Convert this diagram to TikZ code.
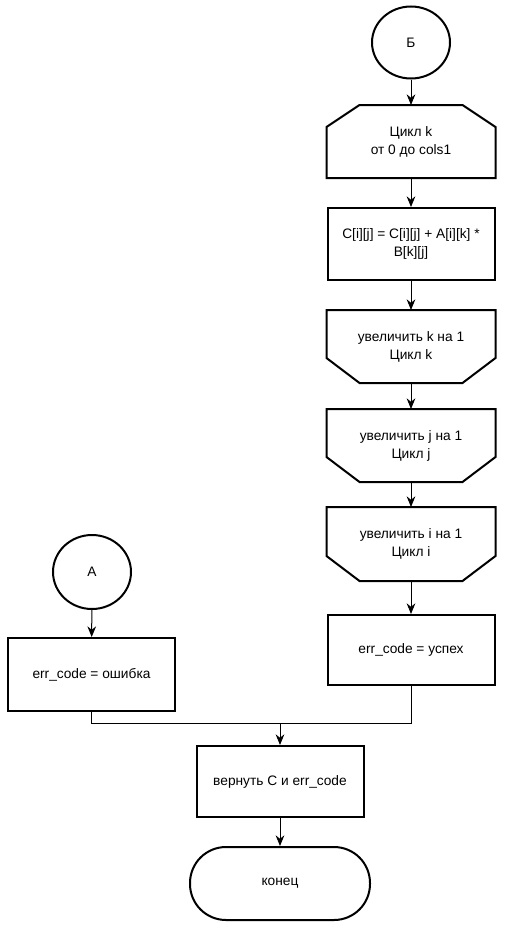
\documentclass[tikz,border=0pt]{standalone}
\usepackage{fontspec}
\setmainfont{Liberation Sans}
\usetikzlibrary{arrows.meta,shapes.geometric}
\begin{document}
\begin{tikzpicture}[x=0.75pt,y=-0.75pt,
  txt/.style={font=\fontsize{10.3}{13.5}\selectfont},
  box/.style={draw,line width=1.5pt,minimum width=125.25pt,minimum height=53.25pt,align=center,txt,inner sep=0pt},
  ghost/.style={box,draw=none},
  conn/.style={draw,line width=0.75pt,-{Stealth[length=8pt,width=6.5pt]}},
  plain/.style={draw,line width=0.75pt},
  outline/.style={draw,line width=1.5pt,line join=miter},
  circ/.style={ellipse,draw,line width=1.5pt,minimum width=58.5pt,minimum height=54pt,inner sep=0pt,txt}]
\useasboundingbox (0,0) rectangle (509,928);
% right column
\node[circ] (B) at (411,42.5) {Б};
\node[ghost] (lk) at (411,141.5) {Цикл k\\от 0 до cols1};
\draw[outline] ([yshift=-16.5pt]lk.north west) -- ([xshift=24.75pt]lk.north west) -- ([xshift=-24.75pt]lk.north east) -- ([yshift=-16.5pt]lk.north east) -- (lk.south east) -- (lk.south west) -- cycle;
\node[box,minimum height=54pt] (calc) at (411,244) {C[i][j] = C[i][j] + A[i][k] *\\B[k][j]};
\node[ghost] (ek) at (411,346.5) {увеличить k на 1\\Цикл k};
\draw[outline] (ek.north west) -- (ek.north east) -- ([yshift=18.75pt]ek.south east) -- ([xshift=-24.75pt]ek.south east) -- ([xshift=24.75pt]ek.south west) -- ([yshift=18.75pt]ek.south west) -- cycle;
\node[ghost] (ej) at (411,445.5) {увеличить j на 1\\Цикл j};
\draw[outline] (ej.north west) -- (ej.north east) -- ([yshift=18.75pt]ej.south east) -- ([xshift=-24.75pt]ej.south east) -- ([xshift=24.75pt]ej.south west) -- ([yshift=18.75pt]ej.south west) -- cycle;
\node[ghost,minimum height=54pt] (ei) at (411,544) {увеличить i на 1\\Цикл i};
\draw[outline] (ei.north west) -- (ei.north east) -- ([yshift=18.75pt]ei.south east) -- ([xshift=-24.75pt]ei.south east) -- ([xshift=24.75pt]ei.south west) -- ([yshift=18.75pt]ei.south west) -- cycle;
\node[box,minimum height=52.5pt] (ok) at (411,650) {err\_code = успех};
% left column
\node[circ,minimum height=55.5pt] (A) at (92,572) {А};
\node[box,minimum height=54.75pt] (err) at (91.5,674.5) {err\_code = ошибка};
% bottom
\coordinate (m) at (280,723);
\node[box] (ret) at (280,781.5) {вернуть C и err\_code};
\node[box,minimum width=135pt,minimum height=54.75pt,rounded corners=27pt] (end) at (280,883.5) {конец};
% connectors
\draw[conn] (B) -- (lk);
\draw[conn] (lk) -- (calc);
\draw[conn] (calc) -- (ek);
\draw[conn] (ek) -- (ej);
\draw[conn] (ej) -- (ei);
\draw[conn] (ei) -- (ok);
\draw[conn] (A) -- (err);
\draw[plain] (err.south) |- (m);
\draw[plain] (ok.south) |- (m);
\draw[conn] (m) -- (ret);
\draw[conn] (ret) -- (end);
\end{tikzpicture}
\end{document}
